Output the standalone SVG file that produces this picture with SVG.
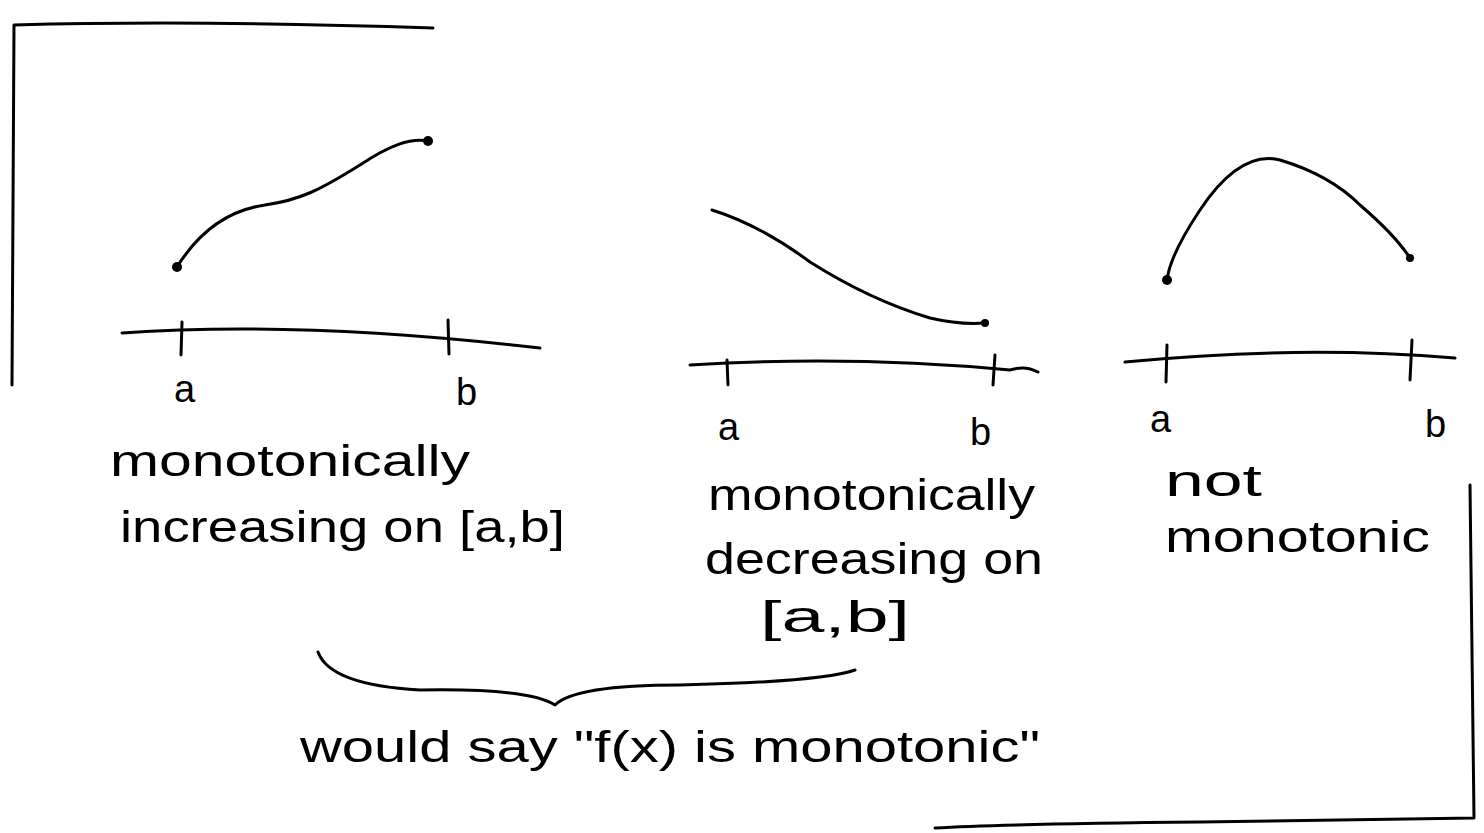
<svg xmlns="http://www.w3.org/2000/svg" width="1484" height="833" viewBox="0 0 1484 833">
<style>
.s{fill:none;stroke:#000;stroke-width:3;stroke-linecap:round;stroke-linejoin:round}
.t{font-family:"Liberation Sans",Arial,sans-serif;font-size:44px;fill:#000}
.l{font-family:"Liberation Sans",Arial,sans-serif;font-size:38px;fill:#000}
.d{fill:#000}
</style>
<rect width="1484" height="833" fill="#fff"/>
<!-- frames -->
<path class="s" d="M12,385 L14,25 Q200,20 433,28"/>
<path class="s" d="M1470,485 L1474,818 L1200,822 Q1000,824 935,828"/>
<!-- graph 1 -->
<g id="graph1">
<path class="s" d="M177,267 C200,230 230,210 265,205 C300,200 320,190 360,165 C390,145 410,138 428,141"/>
<circle class="d" cx="177" cy="267" r="5"/>
<circle class="d" cx="428" cy="141" r="5"/>
<path class="s" d="M122,333 Q300,320 540,348"/>
<path class="s" d="M182,322 L181,355 M448,320 L449,354"/>
<text class="l" x="174" y="402">a</text>
<text class="l" x="456" y="405">b</text>
<text class="t" x="110" y="476" textLength="360" lengthAdjust="spacingAndGlyphs">monotonically</text>
<text class="t" x="120" y="542" textLength="445" lengthAdjust="spacingAndGlyphs">increasing on [a,b]</text>
</g>
<!-- graph 2 -->
<g id="graph2">
<path class="s" d="M712,210 Q760,225 810,262 Q870,300 930,318 Q960,325 985,323"/>
<circle class="d" cx="985" cy="323" r="4"/>
<path class="s" d="M690,365 Q850,355 1010,370 Q1025,365 1038,372"/>
<path class="s" d="M727,360 L728,385 M995,355 L993,385"/>
<text class="l" x="718" y="440">a</text>
<text class="l" x="970" y="445">b</text>
<text class="t" x="708" y="510" textLength="327" lengthAdjust="spacingAndGlyphs">monotonically</text>
<text class="t" x="705" y="574" textLength="338" lengthAdjust="spacingAndGlyphs">decreasing on</text>
<text class="t" x="760" y="632" textLength="150" lengthAdjust="spacingAndGlyphs">[a,b]</text>
</g>
<!-- graph 3 -->
<g id="graph3">
<path class="s" d="M1167,280 Q1170,255 1200,210 Q1240,150 1280,160 Q1330,175 1360,205 Q1395,235 1410,258"/>
<circle class="d" cx="1167" cy="280" r="5"/>
<circle class="d" cx="1410" cy="258" r="4"/>
<path class="s" d="M1125,362 Q1300,345 1455,358"/>
<path class="s" d="M1167,345 L1166,382 M1412,340 L1410,380"/>
<text class="l" x="1150" y="432">a</text>
<text class="l" x="1425" y="437">b</text>
<text class="t" x="1165" y="496" textLength="97" lengthAdjust="spacingAndGlyphs">not</text>
<text class="t" x="1165" y="552" textLength="265" lengthAdjust="spacingAndGlyphs">monotonic</text>
</g>
<!-- brace -->
<g id="brace">
<path class="s" d="M318,652 Q330,685 420,690 Q530,688 555,705 Q575,685 680,685 Q820,682 855,670"/>
<text class="t" x="300" y="762" textLength="740" lengthAdjust="spacingAndGlyphs">would say "f(x) is monotonic"</text>
</g>
</svg>
